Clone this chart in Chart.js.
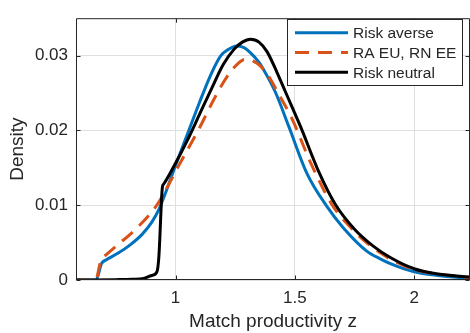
<!DOCTYPE html>
<html>
<head>
<meta charset="utf-8">
<script src="https://cdn.jsdelivr.net/npm/chart.js@4/dist/chart.umd.min.js"></script>
<style>
  html, body { margin: 0; padding: 0; background: #ffffff; }
  #wrap { width: 470px; height: 333px; position: relative; }
</style>
</head>
<body>
<div id="wrap"><canvas id="c" width="470" height="333"></canvas></div>
<script>
// Density of match productivity z under three preference settings
const seriesLabels = ['Risk averse', 'RA EU, RN EE', 'Risk neutral'];

const riskAverseZ = [0.583, 0.667, 0.690, 0.710, 0.760, 0.810, 0.860, 0.900, 0.930, 0.960, 1.000, 1.050, 1.100, 1.150, 1.190, 1.220, 1.255, 1.285, 1.310, 1.350, 1.380, 1.420, 1.475, 1.550, 1.635, 1.700, 1.800, 1.860, 1.900, 2.000, 2.100, 2.234];
const riskAverseDensity = [0, 0, 0.0022, 0.0027, 0.0036, 0.0047, 0.0061, 0.0077, 0.0094, 0.0118, 0.0153, 0.0195, 0.0237, 0.0276, 0.0300, 0.0308, 0.0313, 0.0311, 0.0305, 0.0291, 0.0275, 0.0250, 0.0205, 0.0143, 0.0098, 0.0071, 0.0039, 0.0028, 0.0022, 0.0011, 0.0006, 0.0002];

const raEuRnEeZ = [0.583, 0.665, 0.688, 0.710, 0.750, 0.830, 0.915, 0.950, 1.000, 1.050, 1.100, 1.160, 1.216, 1.264, 1.290, 1.340, 1.380, 1.430, 1.489, 1.566, 1.655, 1.740, 1.800, 1.860, 1.900, 2.000, 2.100, 2.234];
const raEuRnEeDensity = [0, 0, 0.0027, 0.0034, 0.0045, 0.0067, 0.0097, 0.0115, 0.0145, 0.0174, 0.0203, 0.0241, 0.0272, 0.0290, 0.0295, 0.0290, 0.0277, 0.0250, 0.0215, 0.0157, 0.0101, 0.0068, 0.0050, 0.0036, 0.0028, 0.0014, 0.0008, 0.0003];

const riskNeutralZ = [0.583, 0.750, 0.820, 0.866, 0.900, 0.922, 0.930, 0.945, 0.950, 1.000, 1.050, 1.100, 1.160, 1.200, 1.244, 1.280, 1.314, 1.350, 1.384, 1.426, 1.460, 1.524, 1.600, 1.670, 1.750, 1.830, 1.900, 2.000, 2.100, 2.234];
const riskNeutralDensity = [0, 0.00005, 0.0001, 0.0002, 0.0006, 0.0011, 0.0030, 0.0124, 0.0128, 0.0156, 0.0187, 0.0221, 0.0262, 0.0288, 0.0308, 0.0318, 0.0322, 0.0318, 0.0305, 0.0277, 0.0252, 0.0205, 0.0145, 0.0101, 0.0068, 0.0045, 0.0030, 0.0015, 0.0008, 0.0004];

const xTicks = [1, 1.5, 2];
const yTicks = [0, 0.01, 0.02, 0.03];

const AXIS_COLOR = '#262626';
const GRID_COLOR = '#dfdfdf';
const FONT_FAMILY = '"Liberation Sans", Arial, Helvetica, sans-serif';
const TICK_LEN = 4;

function toPoints(zs, ds) {
  return zs.map((z, i) => ({ x: z, y: ds[i] }));
}

// MATLAB-style box with inward ticks on all four sides
const axesBox = {
  id: 'axesBox',
  afterDatasetsDraw(chart) {
    const { ctx, chartArea: a, scales } = chart;
    const L = a.left + 0.5, R = a.right - 0.5, T = a.top + 0.5, B = a.bottom - 0.5;
    ctx.save();
    ctx.strokeStyle = AXIS_COLOR;
    ctx.lineWidth = 1;
    ctx.beginPath();
    ctx.rect(L, T, R - L, B - T);
    xTicks.forEach(v => {
      const px = Math.round(scales.x.getPixelForValue(v)) + 0.5;
      ctx.moveTo(px, B); ctx.lineTo(px, B - TICK_LEN);
      ctx.moveTo(px, T); ctx.lineTo(px, T + TICK_LEN);
    });
    yTicks.forEach(v => {
      const py = Math.round(scales.y.getPixelForValue(v)) + 0.5;
      ctx.moveTo(L, py); ctx.lineTo(L + TICK_LEN, py);
      ctx.moveTo(R, py); ctx.lineTo(R - TICK_LEN, py);
    });
    ctx.stroke();
    ctx.restore();
  }
};

// Boxed legend in the upper right corner of the axes
const LEGEND = { left: 287.5, top: 19.5, right: 462.5, bottom: 85.5, firstRow: 32.7, rowStep: 19.8, sampleFrom: 295, sampleTo: 348, textX: 353, fontSize: 15.5 };
const boxedLegend = {
  id: 'boxedLegend',
  afterDraw(chart) {
    const ctx = chart.ctx;
    const g = LEGEND;
    ctx.save();
    ctx.fillStyle = '#ffffff';
    ctx.fillRect(g.left, g.top, g.right - g.left, g.bottom - g.top);
    ctx.strokeStyle = AXIS_COLOR;
    ctx.lineWidth = 1;
    ctx.strokeRect(g.left, g.top, g.right - g.left, g.bottom - g.top);
    chart.data.datasets.forEach((ds, i) => {
      const y = g.firstRow + i * g.rowStep;
      ctx.beginPath();
      ctx.strokeStyle = ds.borderColor;
      ctx.lineWidth = ds.borderWidth;
      ctx.setLineDash(ds.borderDash || []);
      ctx.moveTo(g.sampleFrom, y);
      ctx.lineTo(g.sampleTo, y);
      ctx.stroke();
      ctx.setLineDash([]);
      ctx.fillStyle = AXIS_COLOR;
      ctx.font = g.fontSize + 'px ' + FONT_FAMILY;
      ctx.textAlign = 'left';
      ctx.textBaseline = 'middle';
      ctx.fillText(ds.label, g.textX, y + 1);
    });
    ctx.restore();
  }
};

new Chart(document.getElementById('c'), {
  type: 'line',
  data: {
    datasets: [
      {
        label: seriesLabels[0],
        data: toPoints(riskAverseZ, riskAverseDensity),
        borderColor: '#0072BD',
        borderWidth: 3,
        order: 2
      },
      {
        label: seriesLabels[1],
        data: toPoints(raEuRnEeZ, raEuRnEeDensity),
        borderColor: '#D95319',
        borderWidth: 3,
        borderDash: [14, 9],
        order: 1
      },
      {
        label: seriesLabels[2],
        data: toPoints(riskNeutralZ, riskNeutralDensity),
        borderColor: '#000000',
        borderWidth: 3,
        order: 0
      }
    ]
  },
  options: {
    responsive: false,
    animation: false,
    parsing: false,
    layout: { padding: { top: 8, right: 0, left: 0, bottom: 0 } },
    elements: {
      point: { radius: 0 },
      line: { cubicInterpolationMode: 'monotone', fill: false, borderCapStyle: 'butt', borderJoinStyle: 'round' }
    },
    plugins: {
      legend: { display: false },
      tooltip: { enabled: false }
    },
    scales: {
      x: {
        type: 'linear',
        min: 0.583,
        max: 2.234,
        afterFit(scale) { scale.height = 53; },
        afterBuildTicks(scale) { scale.ticks = xTicks.map(v => ({ value: v })); },
        ticks: {
          color: AXIS_COLOR,
          padding: 8,
          maxRotation: 0,
          font: { family: FONT_FAMILY, size: 17 },
          callback: v => String(v)
        },
        grid: { color: GRID_COLOR, lineWidth: 1, drawTicks: false },
        border: { display: false },
        title: {
          display: true,
          text: 'Match productivity z',
          color: AXIS_COLOR,
          font: { family: FONT_FAMILY, size: 19 },
          padding: { top: 0, bottom: 0 }
        }
      },
      y: {
        type: 'linear',
        min: 0,
        max: 0.035,
        afterFit(scale) { scale.width = 76; },
        afterBuildTicks(scale) { scale.ticks = yTicks.map(v => ({ value: v })); },
        ticks: {
          color: AXIS_COLOR,
          padding: 8,
          font: { family: FONT_FAMILY, size: 17 },
          callback: v => (v === 0 ? '0' : v.toFixed(2))
        },
        grid: { color: GRID_COLOR, lineWidth: 1, drawTicks: false },
        border: { display: false },
        title: {
          display: true,
          text: 'Density',
          color: AXIS_COLOR,
          font: { family: FONT_FAMILY, size: 19 },
          padding: { top: 6, bottom: 0 }
        }
      }
    }
  },
  plugins: [axesBox, boxedLegend]
});
</script>
</body>
</html>
